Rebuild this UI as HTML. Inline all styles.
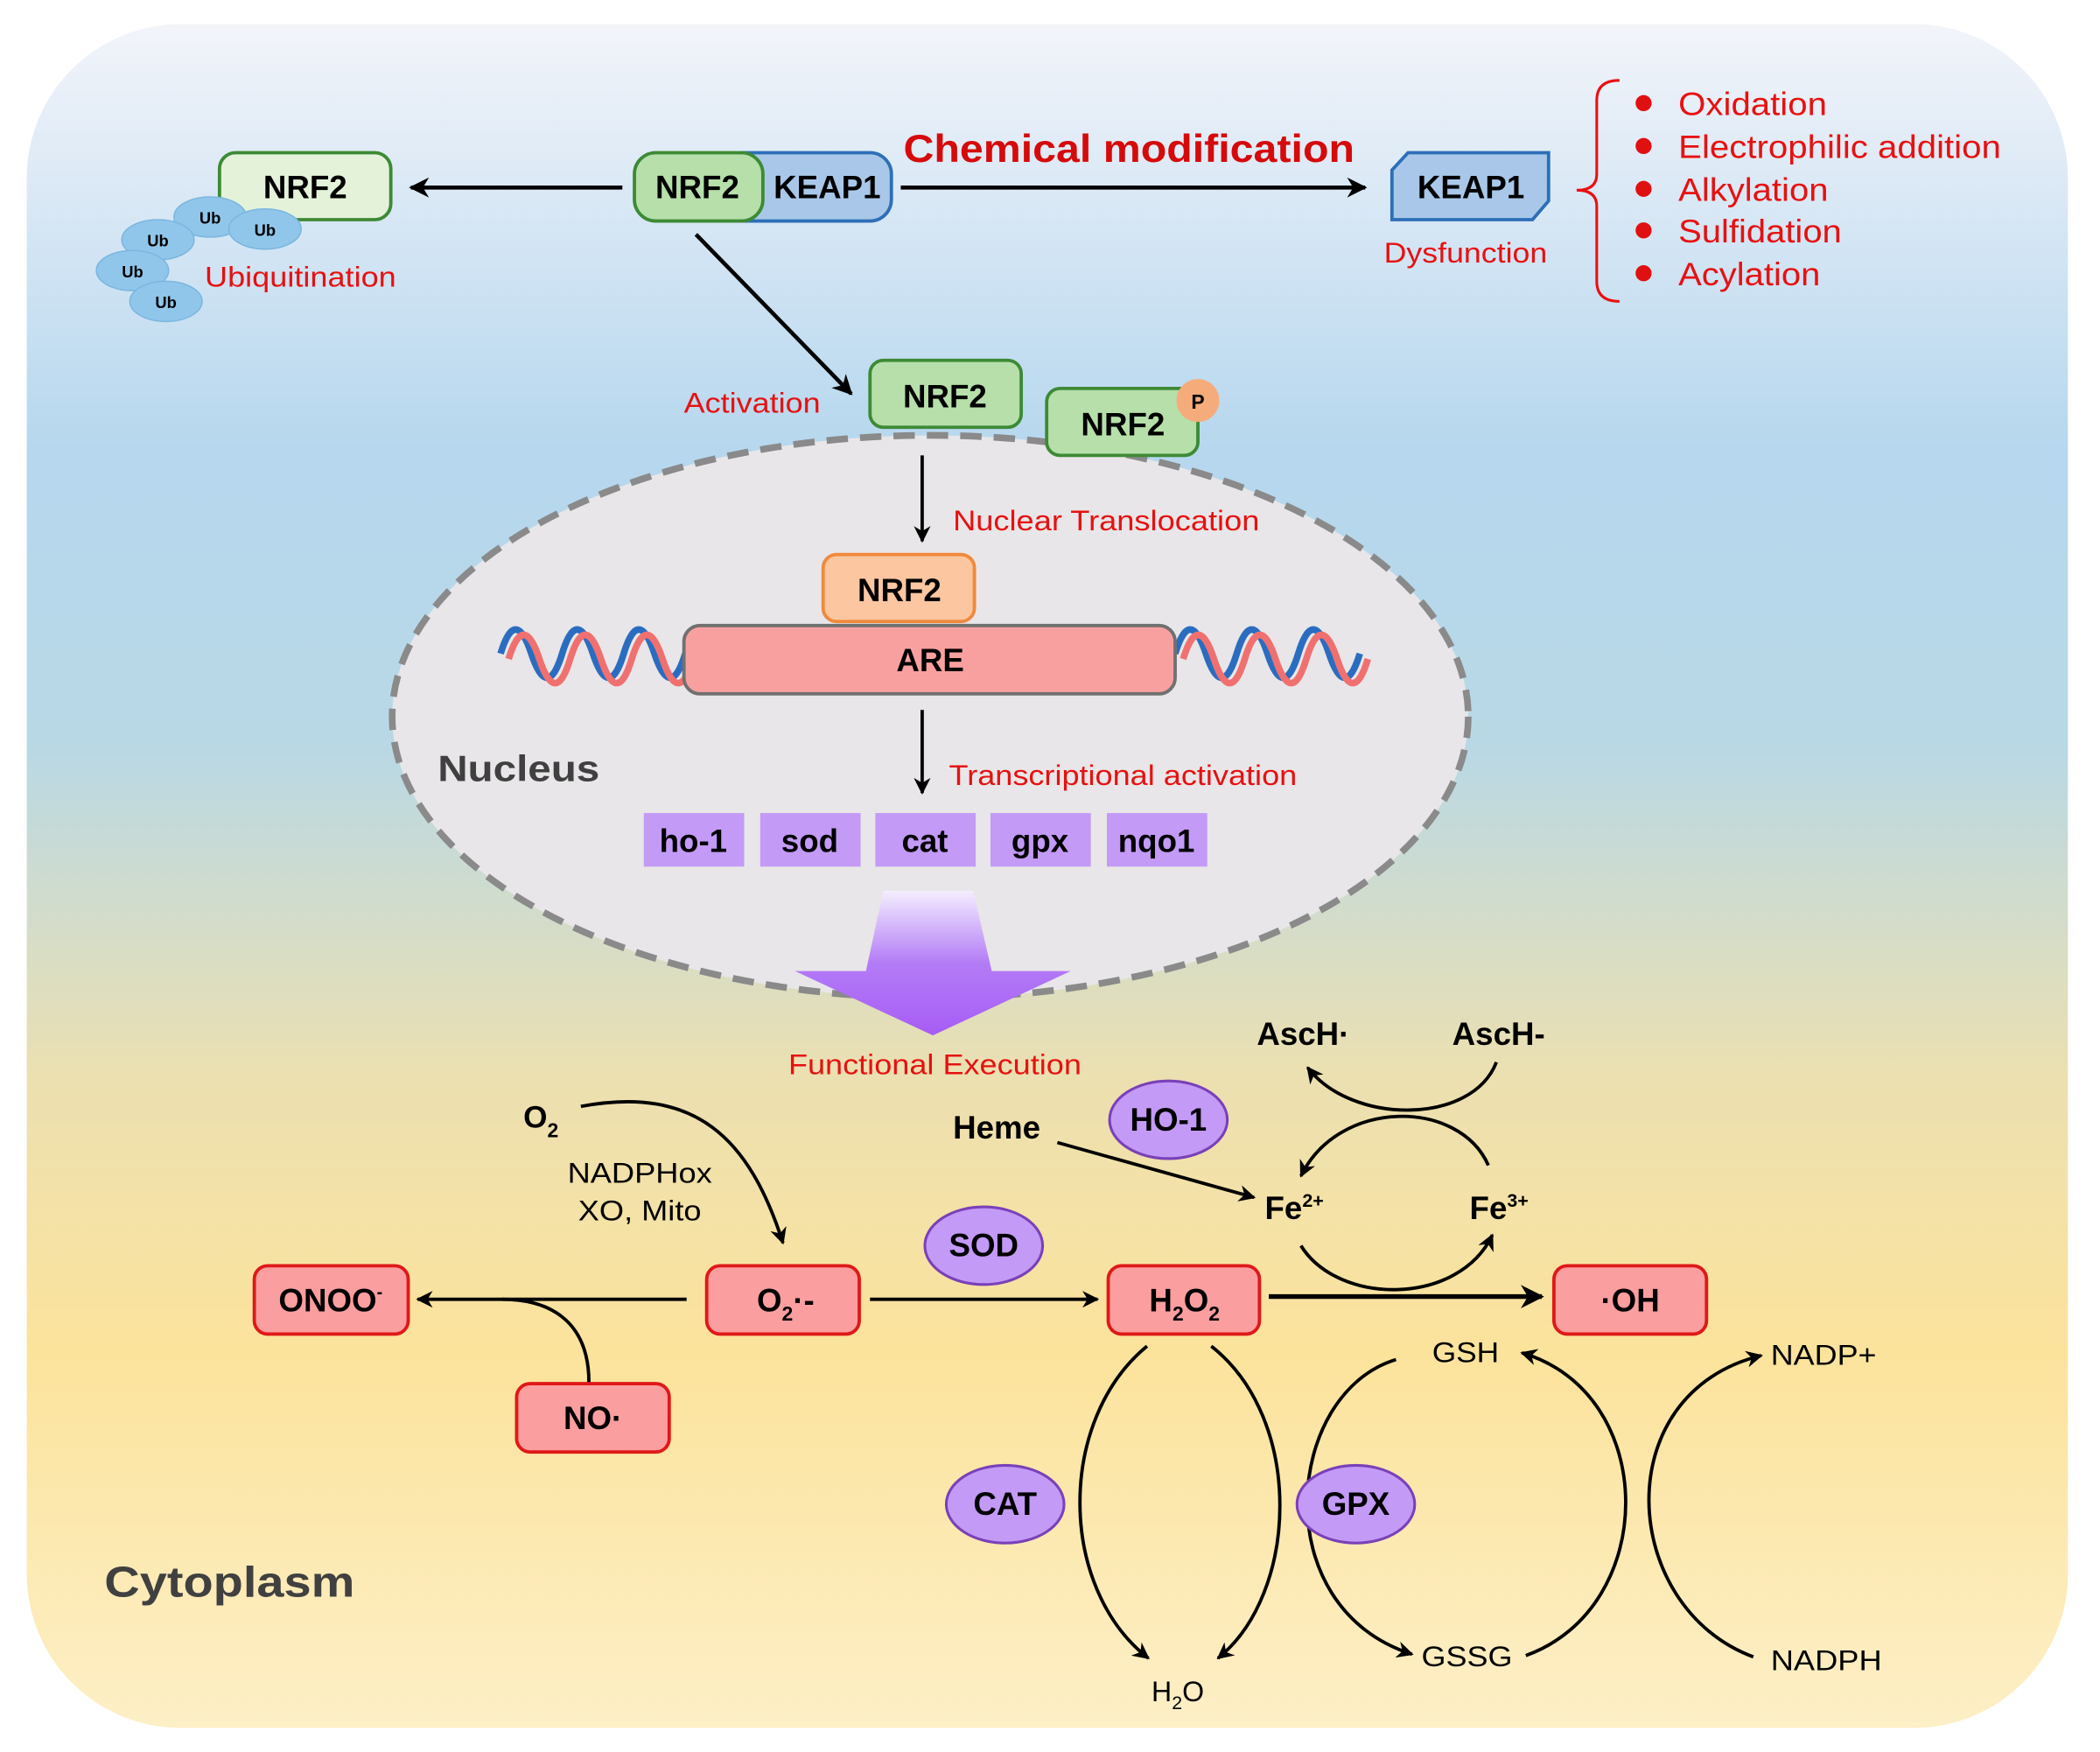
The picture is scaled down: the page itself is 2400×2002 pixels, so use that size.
<!DOCTYPE html>
<html><head><meta charset="utf-8"><style>
html,body{margin:0;padding:0;background:#fff}
svg{display:block}
text{font-family:"Liberation Sans",Arial,sans-serif}
.b{font-weight:bold}
</style></head><body>
<svg width="2400" height="2002" viewBox="0 0 1569 1308" preserveAspectRatio="none" xmlns="http://www.w3.org/2000/svg">
<defs>
<linearGradient id="bg" x1="0" y1="0" x2="0" y2="1">
<stop offset="0" stop-color="#f2f4fa"/>
<stop offset="0.25" stop-color="#b6d7ee"/>
<stop offset="0.42" stop-color="#b8d8e6"/>
<stop offset="0.62" stop-color="#ece0b0"/>
<stop offset="0.78" stop-color="#fce39c"/>
<stop offset="1" stop-color="#fdefc6"/>
</linearGradient>
<linearGradient id="pa" x1="0" y1="0" x2="0" y2="1">
<stop offset="0" stop-color="#f4eefe"/>
<stop offset="0.5" stop-color="#b37cf6"/>
<stop offset="1" stop-color="#a75cf5"/>
</linearGradient>
<marker id="ar" viewBox="0 0 10 10" refX="9" refY="5" markerWidth="5" markerHeight="5" orient="auto"><path d="M0,0 L10,5 L0,10 L3,5 z" fill="#000"/></marker>
</defs>
<rect x="20" y="18" width="1525" height="1272" rx="115" fill="url(#bg)"/>

<ellipse cx="695" cy="535" rx="402" ry="210" fill="#e8e6e8" stroke="#8a8a8a" stroke-width="5" stroke-dasharray="16,9"/>

<g font-size="24" class="b" text-anchor="middle">
<rect x="164" y="114" width="128" height="50" rx="12" fill="#e4f2da" stroke="#3d8a35" stroke-width="2.5"/>
<text x="228" y="148">NRF2</text>
</g>
<g fill="#90c6ea" stroke="#7bb6df" stroke-width="1">
<ellipse cx="157" cy="162" rx="27" ry="15"/><ellipse cx="198" cy="171" rx="27" ry="15"/>
<ellipse cx="118" cy="179" rx="27" ry="15"/><ellipse cx="99" cy="202" rx="27" ry="15"/><ellipse cx="124" cy="225" rx="27" ry="15"/>
</g>
<g font-size="12" class="b" text-anchor="middle"><text x="157" y="167">Ub</text><text x="198" y="176">Ub</text><text x="118" y="184">Ub</text><text x="99" y="207">Ub</text><text x="124" y="230">Ub</text></g>
<text x="153" y="214" font-size="21" fill="#e81010" textLength="143" lengthAdjust="spacingAndGlyphs">Ubiquitination</text>

<line x1="465" y1="140" x2="307" y2="140" stroke="#000" stroke-width="3" marker-end="url(#ar)"/>
<rect x="540" y="114" width="126" height="51" rx="16" fill="#a9c8e9" stroke="#2d6fb8" stroke-width="2.5"/>
<rect x="474" y="114" width="96" height="51" rx="16" fill="#b6dfaa" stroke="#3d8a35" stroke-width="2.5"/>
<text x="521" y="148" text-anchor="middle" font-size="24" class="b">NRF2</text>
<text x="618" y="148" text-anchor="middle" font-size="24" class="b">KEAP1</text>
<text x="675" y="121" font-size="29" class="b" fill="#d60a0a" textLength="337" lengthAdjust="spacingAndGlyphs">Chemical modification</text>
<line x1="673" y1="140" x2="1020" y2="140" stroke="#000" stroke-width="3" marker-end="url(#ar)"/>
<path d="M1052,114 H1157 V150 L1145,164 H1040 V127 Z" fill="#a9c8e9" stroke="#2d6fb8" stroke-width="2.5"/>
<text x="1099" y="148" text-anchor="middle" font-size="24" class="b">KEAP1</text>
<text x="1034" y="196" font-size="21" fill="#e81010" textLength="122" lengthAdjust="spacingAndGlyphs">Dysfunction</text>
<path d="M1210,60 Q1193,60 1193,75 V130 Q1193,142 1178,142 Q1193,142 1193,154 V210 Q1193,225 1210,225" fill="none" stroke="#e81010" stroke-width="2"/>
<g fill="#e01010"><circle cx="1228" cy="77" r="6"/><circle cx="1228" cy="109" r="6"/><circle cx="1228" cy="141" r="6"/><circle cx="1228" cy="172" r="6"/><circle cx="1228" cy="204" r="6"/></g>
<g font-size="24" fill="#e81010"><text x="1254" y="86" textLength="111" lengthAdjust="spacingAndGlyphs">Oxidation</text><text x="1254" y="118" textLength="241" lengthAdjust="spacingAndGlyphs">Electrophilic addition</text><text x="1254" y="150" textLength="112" lengthAdjust="spacingAndGlyphs">Alkylation</text><text x="1254" y="181" textLength="122" lengthAdjust="spacingAndGlyphs">Sulfidation</text><text x="1254" y="213" textLength="106" lengthAdjust="spacingAndGlyphs">Acylation</text></g>

<line x1="520" y1="175" x2="636" y2="294" stroke="#000" stroke-width="3" marker-end="url(#ar)"/>
<text x="511" y="308" font-size="21" fill="#e81010" textLength="102" lengthAdjust="spacingAndGlyphs">Activation</text>
<rect x="650" y="269" width="113" height="50" rx="10" fill="#b6dfaa" stroke="#3d8a35" stroke-width="2.5"/>
<text x="706" y="304" text-anchor="middle" font-size="24" class="b">NRF2</text>
<rect x="782" y="290" width="113" height="50" rx="10" fill="#b6dfaa" stroke="#3d8a35" stroke-width="2.5"/>
<text x="839" y="325" text-anchor="middle" font-size="24" class="b">NRF2</text>
<circle cx="895" cy="299" r="16" fill="#f6ac7a"/>
<text x="895" y="305" text-anchor="middle" font-size="15" class="b">P</text>

<line x1="689" y1="340" x2="689" y2="404" stroke="#000" stroke-width="2.5" marker-end="url(#ar)"/>
<text x="712" y="396" font-size="21" fill="#e81010" textLength="229" lengthAdjust="spacingAndGlyphs">Nuclear Translocation</text>
<rect x="615" y="414" width="113" height="50" rx="10" fill="#fcc7a0" stroke="#f08a3c" stroke-width="2.5"/>
<text x="672" y="449" text-anchor="middle" font-size="24" class="b">NRF2</text>

<g fill="none" stroke-width="5">
<path d="M374,488 q11,-36 23,0 t23,0 t23,0 t23,0 t23,0 t23,0" stroke="#2a6dc0" transform="translate(0,0)"/>
<path d="M374,488 q11,-36 23,0 t23,0 t23,0 t23,0 t23,0 t23,0" stroke="#f07070" transform="translate(6,4)"/>
<path d="M878,488 q11,-36 23,0 t23,0 t23,0 t23,0 t23,0 t23,0" stroke="#2a6dc0" transform="translate(0,0)"/>
<path d="M878,488 q11,-36 23,0 t23,0 t23,0 t23,0 t23,0 t23,0" stroke="#f07070" transform="translate(6,4)"/>
</g>
<rect x="511" y="467" width="367" height="51" rx="12" fill="#f8a0a0" stroke="#707070" stroke-width="2.5"/>
<text x="695" y="501" text-anchor="middle" font-size="24" class="b">ARE</text>

<text x="327" y="583" font-size="27" class="b" fill="#404040" textLength="121" lengthAdjust="spacingAndGlyphs">Nucleus</text>
<line x1="689" y1="530" x2="689" y2="592" stroke="#000" stroke-width="2.5" marker-end="url(#ar)"/>
<text x="709" y="586" font-size="21" fill="#e81010" textLength="260" lengthAdjust="spacingAndGlyphs">Transcriptional activation</text>
<g fill="#c39af6"><rect x="481" y="607" width="75" height="40"/><rect x="568" y="607" width="75" height="40"/><rect x="654" y="607" width="75" height="40"/><rect x="740" y="607" width="75" height="40"/><rect x="827" y="607" width="75" height="40"/></g>
<g font-size="24" class="b" text-anchor="middle"><text x="518" y="636">ho-1</text><text x="605" y="636">sod</text><text x="691" y="636">cat</text><text x="777" y="636">gpx</text><text x="864" y="636">nqo1</text></g>
<path d="M660,665 H727 L741,725 H800 L697,773 L594,725 H647 Z" fill="url(#pa)"/>
<text x="589" y="802" font-size="21" fill="#e81010" textLength="219" lengthAdjust="spacingAndGlyphs">Functional Execution</text>

<text x="391" y="842" font-size="23" class="b">O<tspan font-size="15" dy="7">2</tspan></text>
<path d="M434,826 C520,810 560,850 585,928" fill="none" stroke="#000" stroke-width="2.5" marker-end="url(#ar)"/>
<text x="424" y="883" font-size="21" textLength="108" lengthAdjust="spacingAndGlyphs">NADPHox</text>
<text x="432" y="911" font-size="21" textLength="92" lengthAdjust="spacingAndGlyphs">XO, Mito</text>

<rect x="190" y="945" width="115" height="51" rx="10" fill="#fa9ea0" stroke="#e01818" stroke-width="2.5"/>
<text x="247" y="979" text-anchor="middle" font-size="24" class="b">ONOO<tspan font-size="13" dy="-10">-</tspan></text>
<rect x="528" y="945" width="114" height="51" rx="10" fill="#fa9ea0" stroke="#e01818" stroke-width="2.5"/>
<text x="587" y="979" text-anchor="middle" font-size="24" class="b">O<tspan font-size="15" dy="7">2</tspan><tspan dy="-7">·-</tspan></text>
<line x1="513" y1="970" x2="312" y2="970" stroke="#000" stroke-width="2.5" marker-end="url(#ar)"/>
<path d="M440,1032 C440,990 415,970 375,970" fill="none" stroke="#000" stroke-width="2.5"/>
<rect x="386" y="1033" width="114" height="51" rx="10" fill="#fa9ea0" stroke="#e01818" stroke-width="2.5"/>
<text x="443" y="1067" text-anchor="middle" font-size="24" class="b">NO·</text>

<line x1="650" y1="970" x2="820" y2="970" stroke="#000" stroke-width="2.5" marker-end="url(#ar)"/>
<ellipse cx="735" cy="930" rx="44" ry="29" fill="#c39af6" stroke="#7a40b8" stroke-width="2"/>
<text x="735" y="938" text-anchor="middle" font-size="24" class="b">SOD</text>
<rect x="828" y="945" width="113" height="51" rx="10" fill="#fa9ea0" stroke="#e01818" stroke-width="2.5"/>
<text x="885" y="979" text-anchor="middle" font-size="24" class="b">H<tspan font-size="15" dy="7">2</tspan><tspan dy="-7">O</tspan><tspan font-size="15" dy="7">2</tspan></text>
<line x1="948" y1="968" x2="1152" y2="968" stroke="#000" stroke-width="3.5" marker-end="url(#ar)"/>
<rect x="1161" y="945" width="114" height="51" rx="10" fill="#fa9ea0" stroke="#e01818" stroke-width="2.5"/>
<text x="1218" y="979" text-anchor="middle" font-size="24" class="b">·OH</text>

<text x="712" y="850" font-size="24" class="b">Heme</text>
<line x1="790" y1="853" x2="937" y2="894" stroke="#000" stroke-width="2.5" marker-end="url(#ar)"/>
<ellipse cx="873" cy="836" rx="44" ry="29" fill="#c39af6" stroke="#7a40b8" stroke-width="2"/>
<text x="873" y="844" text-anchor="middle" font-size="24" class="b">HO-1</text>
<text x="945" y="910" font-size="24" class="b">Fe<tspan font-size="14" dy="-9">2+</tspan></text>
<text x="1098" y="910" font-size="24" class="b">Fe<tspan font-size="14" dy="-9">3+</tspan></text>
<text x="939" y="780" font-size="24" class="b">AscH·</text>
<text x="1085" y="780" font-size="24" class="b">AscH-</text>
<path d="M1118,793 C1100,840 1010,840 977,797" fill="none" stroke="#000" stroke-width="2.5" marker-end="url(#ar)"/>
<path d="M1112,870 C1090,820 1000,820 972,878" fill="none" stroke="#000" stroke-width="2.5" marker-end="url(#ar)"/>
<path d="M972,930 C1000,975 1090,975 1115,922" fill="none" stroke="#000" stroke-width="2.5" marker-end="url(#ar)"/>

<path d="M857,1005 C790,1060 790,1185 858,1238" fill="none" stroke="#000" stroke-width="2.5" marker-end="url(#ar)"/>
<path d="M905,1005 C975,1060 970,1190 910,1238" fill="none" stroke="#000" stroke-width="2.5" marker-end="url(#ar)"/>
<ellipse cx="751" cy="1123" rx="44" ry="29" fill="#c39af6" stroke="#7a40b8" stroke-width="2"/>
<text x="751" y="1131" text-anchor="middle" font-size="24" class="b">CAT</text>
<text x="880" y="1270" text-anchor="middle" font-size="21">H<tspan font-size="14" dy="6">2</tspan><tspan dy="-6">O</tspan></text>

<path d="M1043,1015 C960,1040 945,1200 1055,1235" fill="none" stroke="#000" stroke-width="2.5" marker-end="url(#ar)"/>
<ellipse cx="1013" cy="1123" rx="44" ry="29" fill="#c39af6" stroke="#7a40b8" stroke-width="2"/>
<text x="1013" y="1131" text-anchor="middle" font-size="24" class="b">GPX</text>
<text x="1070" y="1017" font-size="21" textLength="50" lengthAdjust="spacingAndGlyphs">GSH</text>
<text x="1062" y="1244" font-size="21" textLength="68" lengthAdjust="spacingAndGlyphs">GSSG</text>
<path d="M1140,1236 C1240,1200 1240,1040 1137,1010" fill="none" stroke="#000" stroke-width="2.5" marker-end="url(#ar)"/>
<path d="M1310,1237 C1210,1200 1200,1040 1316,1012" fill="none" stroke="#000" stroke-width="2.5" marker-end="url(#ar)"/>
<text x="1323" y="1019" font-size="21" textLength="79" lengthAdjust="spacingAndGlyphs">NADP+</text>
<text x="1323" y="1247" font-size="21" textLength="83" lengthAdjust="spacingAndGlyphs">NADPH</text>

<text x="78" y="1192" font-size="32" class="b" fill="#404040" textLength="187" lengthAdjust="spacingAndGlyphs">Cytoplasm</text>
</svg>
</body></html>
